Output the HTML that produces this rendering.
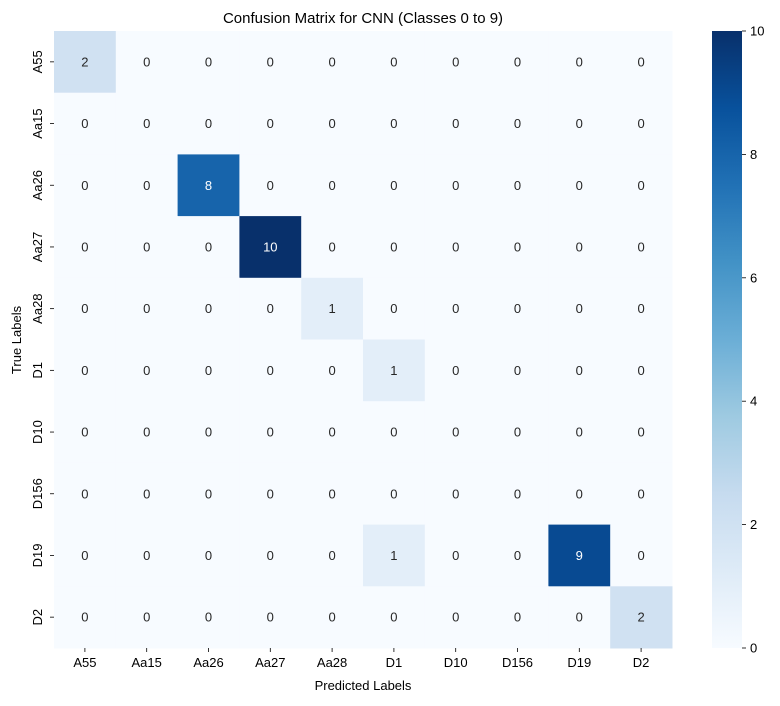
<!DOCTYPE html>
<html><head><meta charset="utf-8"><style>
body{margin:0;background:#fff;font-family:"Liberation Sans","DejaVu Sans",sans-serif;}
svg text{font-family:"Liberation Sans","DejaVu Sans",sans-serif;}
</style></head><body>
<svg id="chart" width="780" height="701" xmlns="http://www.w3.org/2000/svg">
<text x="363" y="23" text-anchor="middle" font-size="15" fill="#000">Confusion Matrix for CNN (Classes 0 to 9)</text>
<g id="cells"></g>
<g id="xticks"></g>
<g id="yticks"></g>
<text x="363" y="690" text-anchor="middle" font-size="13" fill="#000">Predicted Labels</text>
<text transform="translate(21,340) rotate(-90)" text-anchor="middle" font-size="13" fill="#000">True Labels</text>
<defs><linearGradient id="cbgrad" x1="0" y1="1" x2="0" y2="0">
<stop offset="0" stop-color="#f7fbff"/><stop offset="0.125" stop-color="#deebf7"/><stop offset="0.25" stop-color="#c6dbef"/><stop offset="0.375" stop-color="#9ecae1"/><stop offset="0.5" stop-color="#6baed6"/><stop offset="0.625" stop-color="#4292c6"/><stop offset="0.75" stop-color="#2171b5"/><stop offset="0.875" stop-color="#08519c"/><stop offset="1" stop-color="#08306b"/>
</linearGradient></defs>
<rect x="712" y="31" width="30" height="617" fill="url(#cbgrad)"/>
<g id="cbticks"></g>
</svg>
<script>
const labels = ["A55","Aa15","Aa26","Aa27","Aa28","D1","D10","D156","D19","D2"];
const row0 = [2,0,0,0,0,0,0,0,0,0];
const row1 = [0,0,0,0,0,0,0,0,0,0];
const row2 = [0,0,8,0,0,0,0,0,0,0];
const row3 = [0,0,0,10,0,0,0,0,0,0];
const row4 = [0,0,0,0,1,0,0,0,0,0];
const row5 = [0,0,0,0,0,1,0,0,0,0];
const row6 = [0,0,0,0,0,0,0,0,0,0];
const row7 = [0,0,0,0,0,0,0,0,0,0];
const row8 = [0,0,0,0,0,1,0,0,9,0];
const row9 = [0,0,0,0,0,0,0,0,0,2];
const matrix = [row0,row1,row2,row3,row4,row5,row6,row7,row8,row9];
const cbTicks = [0,2,4,6,8,10];
const vmin = 0, vmax = 10;

const X0=54, X1=672, Y0=31, Y1=648;
const cw=(X1-X0)/labels.length, ch=(Y1-Y0)/labels.length;
const xPos = i => X0 + i*cw;
const yPos = i => Y0 + i*ch;
const cbY = v => Y1 - (v-vmin)/(vmax-vmin)*(Y1-Y0);
const stops=[[247,251,255],[222,235,247],[198,219,239],[158,202,225],[107,174,214],[66,146,198],[33,113,181],[8,81,156],[8,48,107]];
function color(v){
  let t=(v-vmin)/(vmax-vmin)*(stops.length-1);
  let i=Math.min(Math.floor(t),stops.length-2), f=t-i;
  const c=stops[i].map((a,k)=>Math.round(a+(stops[i+1][k]-a)*f));
  return `rgb(${c[0]},${c[1]},${c[2]})`;
}
const NS="http://www.w3.org/2000/svg";
function mk(tag,attrs,parent){const e=document.createElementNS(NS,tag);for(const k in attrs)e.setAttribute(k,attrs[k]);parent.appendChild(e);return e;}
const cells=document.getElementById('cells');
matrix.forEach((row,r)=>row.forEach((v,c)=>{
  const rect=mk('rect',{x:xPos(c),y:yPos(r),width:cw+0.5,height:ch+0.5,fill:color(v)},cells);
  
  
  const t=mk('text',{x:xPos(c)+cw/2,y:yPos(r)+ch/2+4.5,'text-anchor':'middle','font-size':'13',fill:v>5?'#fff':'#262626'},cells);
  t.textContent=v;
  
  
}));
const xt=document.getElementById('xticks'), yt=document.getElementById('yticks');
labels.forEach((l,i)=>{
  const cx=xPos(i)+cw/2;
  mk('line',{x1:cx,x2:cx,y1:Y1,y2:Y1+4,stroke:'#000','stroke-width':0.8},xt);
  const t=mk('text',{x:cx,y:Y1+19,'text-anchor':'middle','font-size':'13',fill:'#000'},xt);
  t.textContent=l;
  
  
  const cy=yPos(i)+ch/2;
  mk('line',{x1:X0-4,x2:X0,y1:cy,y2:cy,stroke:'#000','stroke-width':0.8},yt);
  const u=mk('text',{transform:`translate(${X0-12},${cy}) rotate(-90)`,'text-anchor':'middle','font-size':'13',fill:'#000'},yt);
  u.textContent=l;
  
  
});
const cb=document.getElementById('cbticks');
cbTicks.forEach(v=>{
  const y=cbY(v);
  mk('line',{x1:742,x2:746,y1:y,y2:y,stroke:'#000','stroke-width':0.8},cb);
  const t=mk('text',{x:750,y:y+4.5,'font-size':'13',fill:'#000'},cb);
  t.textContent=v;
  
  
});
</script>
</body></html>
